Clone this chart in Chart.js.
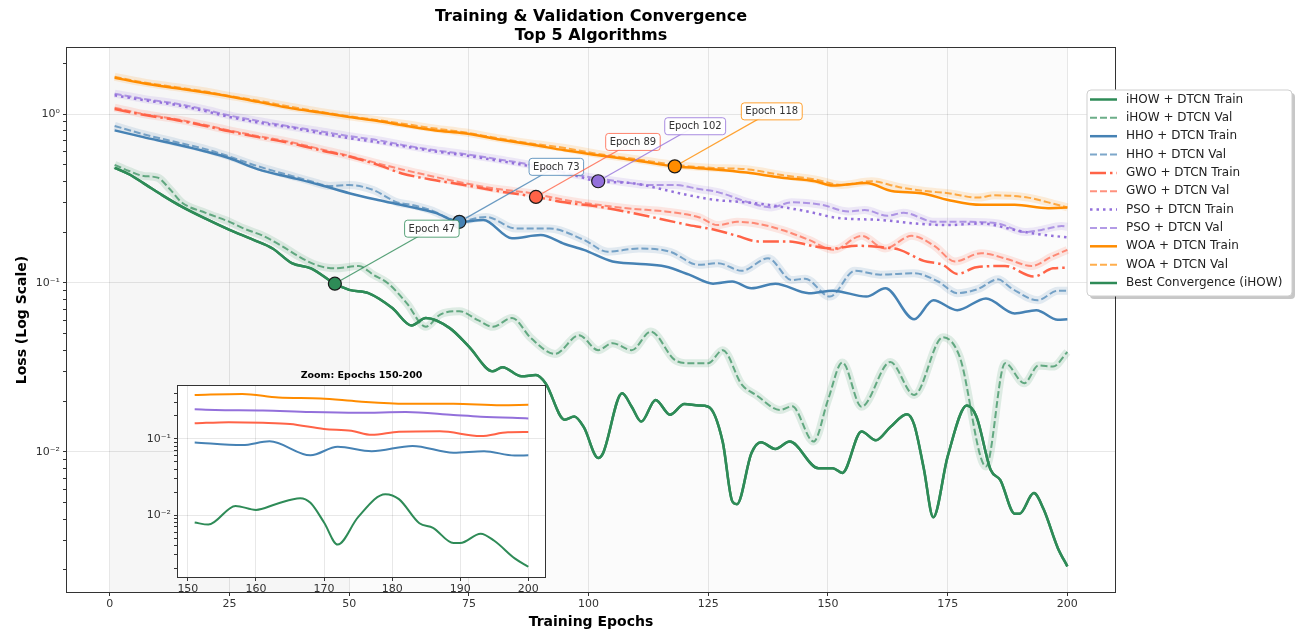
<!DOCTYPE html>
<html>
<head>
<meta charset="utf-8">
<script src="https://cdn.jsdelivr.net/npm/chart.js@4.4.0/dist/chart.umd.min.js"></script>
<style>
  body { margin: 0; background: #fff; }
  #wrap { position: relative; width: 1300px; height: 635px; }
  #main { position: absolute; left: 0; top: 0; }
  #zoom { position: absolute; left: 130px; top: 360px; }
</style>
</head>
<body>
<div id="wrap">
  <canvas id="main" width="1300" height="635"></canvas>
  <canvas id="zoom" width="430" height="245"></canvas>
</div>
<script>
// axis ticks
const xTicks = [0, 25, 50, 75, 100, 125, 150, 175, 200];
const zoomTicks = [150, 160, 170, 180, 190, 200];
const decadeTicks = [0.01, 0.1, 1];
const decadeLabels = ['10⁻²', '10⁻¹', '10⁰'];

// algorithms, colours and the epoch where each one is marked
const algorithms = ['iHOW', 'HHO', 'GWO', 'PSO', 'WOA'];
const algoColors = ['#2e8b57', '#4682b4', '#ff6347', '#9370db', '#ff8c00'];
const bestEpochs = [47, 73, 89, 102, 118];

// background phases (epochs)
const phaseEdges = [0, 50, 200];
const phaseFills = ['#f6f6f6', '#fbfbfb'];

// iHOW + DTCN
const ihowTrainEpochs = [1, 4, 7, 11, 15, 20, 25, 30, 34, 38, 42, 47, 50, 54, 59, 63, 66, 71, 75, 80, 82, 86, 89, 91, 95, 97, 99, 102, 103, 107, 109, 111, 114, 117, 120, 123, 125, 128, 130, 131, 134, 136, 139, 142, 148, 151, 153, 157, 160, 163, 166.5, 168, 170, 172, 175, 179, 181, 184, 186, 189, 190, 193, 195, 198, 200];
const ihowTrainLoss = [0.48, 0.44, 0.39, 0.33, 0.283, 0.24, 0.206, 0.18, 0.16, 0.131, 0.122, 0.099, 0.091, 0.087, 0.071, 0.056, 0.062, 0.054, 0.042, 0.030, 0.0317, 0.028, 0.0285, 0.0255, 0.0155, 0.0162, 0.014, 0.0092, 0.0098, 0.0222, 0.0185, 0.0151, 0.0203, 0.0166, 0.0192, 0.0188, 0.0185, 0.0115, 0.0051, 0.0049, 0.0098, 0.0114, 0.0104, 0.0115, 0.0080, 0.0080, 0.0075, 0.0132, 0.0117, 0.014, 0.0167, 0.0145, 0.008, 0.0041, 0.0094, 0.0188, 0.0162, 0.0078, 0.0068, 0.0043, 0.0043, 0.0057, 0.0046, 0.0027, 0.0021];
const ihowValEpochs = [1, 4, 7, 10, 12.5, 15, 20, 25, 28, 32, 36, 39, 43, 47, 52, 55, 58, 62, 66, 69, 73, 77, 80, 84, 88, 93, 98, 102, 105, 109, 113, 118, 121, 125, 128, 132, 135, 140, 142.5, 147, 150, 153, 157, 163, 168, 174, 177.5, 183, 187, 191, 194, 197, 200];
const ihowValLoss = [0.50, 0.46, 0.43, 0.42, 0.36, 0.30, 0.26, 0.23, 0.21, 0.19, 0.165, 0.146, 0.128, 0.122, 0.126, 0.112, 0.10, 0.076, 0.055, 0.065, 0.068, 0.060, 0.055, 0.062, 0.047, 0.038, 0.049, 0.040, 0.044, 0.040, 0.0515, 0.035, 0.0335, 0.0335, 0.040, 0.025, 0.0217, 0.0177, 0.0186, 0.0115, 0.0203, 0.0338, 0.0185, 0.034, 0.0217, 0.0477, 0.0366, 0.0082, 0.0335, 0.0255, 0.0325, 0.032, 0.039];

// HHO + DTCN
const hhoTrainEpochs = [1, 7, 14, 20, 25, 31, 38, 44, 50, 56, 62, 68, 73, 78, 84, 90, 95, 99, 105, 110, 116, 121, 126, 130, 134, 139, 146, 151, 158, 162, 168, 172, 177, 183, 189, 193.5, 198, 200];
const hhoTrainLoss = [0.80, 0.73, 0.66, 0.60, 0.547, 0.47, 0.42, 0.38, 0.34, 0.31, 0.285, 0.26, 0.23, 0.236, 0.184, 0.192, 0.17, 0.157, 0.134, 0.13, 0.125, 0.112, 0.099, 0.102, 0.093, 0.099, 0.087, 0.09, 0.083, 0.093, 0.061, 0.079, 0.069, 0.081, 0.066, 0.069, 0.0605, 0.061];
const hhoValEpochs = [1, 7, 14, 20, 25, 31, 38, 42, 46, 50, 55, 60, 63, 67, 73, 78.6, 84.8, 91.8, 99, 104, 110.5, 117, 123, 127, 132, 137.5, 142.4, 145.2, 150.4, 155.6, 161, 168, 173, 177, 181.3, 185.5, 188.3, 193.8, 198, 200];
const hhoValLoss = [0.85, 0.76, 0.68, 0.62, 0.56, 0.49, 0.43, 0.40, 0.375, 0.38, 0.355, 0.30, 0.29, 0.27, 0.233, 0.246, 0.21, 0.21, 0.18, 0.153, 0.16, 0.153, 0.128, 0.131, 0.118, 0.14, 0.104, 0.106, 0.083, 0.118, 0.112, 0.114, 0.102, 0.087, 0.092, 0.105, 0.093, 0.079, 0.09, 0.09];

// GWO + DTCN
const gwoTrainEpochs = [1, 7, 14, 20, 25, 31, 38, 44, 50, 56, 61, 67, 74, 81, 89, 95, 102, 109, 116, 121, 126.5, 131, 135.5, 142, 147, 151, 156, 161, 165, 170, 174, 177, 181, 187, 193, 197, 200];
const gwoTrainLoss = [1.07, 0.99, 0.92, 0.85, 0.79, 0.73, 0.67, 0.61, 0.56, 0.50, 0.445, 0.41, 0.38, 0.35, 0.323, 0.30, 0.283, 0.26, 0.236, 0.22, 0.206, 0.19, 0.176, 0.176, 0.165, 0.16, 0.166, 0.163, 0.157, 0.135, 0.128, 0.113, 0.124, 0.126, 0.109, 0.122, 0.123];
const gwoValEpochs = [1, 7, 14, 20, 25, 31, 38, 44, 50, 56, 61, 67, 74, 81, 88, 95, 102, 109, 116, 123, 127, 131, 135, 140.4, 146, 151.2, 157, 161.9, 167.5, 172.3, 176.5, 182, 187.6, 192.5, 196.7, 200];
const gwoValLoss = [1.09, 1.0, 0.93, 0.86, 0.80, 0.74, 0.68, 0.62, 0.565, 0.51, 0.47, 0.43, 0.39, 0.36, 0.34, 0.31, 0.29, 0.275, 0.265, 0.245, 0.22, 0.23, 0.225, 0.206, 0.18, 0.157, 0.19, 0.16, 0.19, 0.165, 0.134, 0.15, 0.138, 0.126, 0.143, 0.157];

// PSO + DTCN
const psoTrainEpochs = [1, 7, 14, 20, 25, 31, 38, 44, 50, 56, 62, 68, 74, 81, 88, 95, 102, 109, 116, 121, 126.5, 133, 140, 147, 151, 154, 161, 168, 175, 182, 189, 193, 200];
const psoTrainLoss = [1.29, 1.21, 1.13, 1.04, 0.96, 0.89, 0.83, 0.77, 0.72, 0.68, 0.64, 0.60, 0.57, 0.53, 0.49, 0.45, 0.40, 0.39, 0.355, 0.33, 0.31, 0.30, 0.283, 0.26, 0.245, 0.24, 0.236, 0.225, 0.22, 0.225, 0.206, 0.196, 0.186];
const psoValEpochs = [1, 7, 14, 20, 25, 31, 38, 44, 50, 56, 62, 68, 74, 81, 88, 95, 101, 106, 113, 118, 123, 127, 133.4, 138.2, 142.4, 148.7, 154.3, 157.7, 162.4, 165.8, 172.3, 178.5, 185.5, 191.1, 194.6, 198.8, 200];
const psoValLoss = [1.32, 1.23, 1.15, 1.06, 0.98, 0.91, 0.84, 0.79, 0.74, 0.70, 0.65, 0.61, 0.58, 0.54, 0.50, 0.45, 0.42, 0.40, 0.38, 0.38, 0.36, 0.345, 0.30, 0.28, 0.30, 0.29, 0.265, 0.27, 0.25, 0.26, 0.23, 0.23, 0.225, 0.20, 0.206, 0.217, 0.215];

// WOA + DTCN
const woaTrainEpochs = [1, 7, 14, 20, 25, 31, 38, 44, 50, 56, 62, 68, 74, 81, 88, 95, 102, 110, 118, 126.5, 133, 140.4, 147.3, 151, 158, 163.3, 169.5, 175.1, 182, 189, 196, 200];
const woaTrainLoss = [1.64, 1.52, 1.42, 1.34, 1.27, 1.18, 1.08, 1.02, 0.96, 0.91, 0.85, 0.80, 0.77, 0.71, 0.66, 0.61, 0.57, 0.53, 0.49, 0.47, 0.45, 0.42, 0.40, 0.377, 0.39, 0.35, 0.34, 0.31, 0.29, 0.29, 0.277, 0.28];
const woaValEpochs = [1, 7, 14, 20, 25, 31, 38, 44, 50, 56, 62, 68, 74, 81, 88, 95, 102, 110, 118, 126, 133.4, 140.4, 147.3, 152.9, 159.1, 164.7, 170.2, 175.1, 181.3, 184.8, 191.8, 196, 200];
const woaValLoss = [1.66, 1.54, 1.44, 1.36, 1.28, 1.20, 1.10, 1.03, 0.97, 0.92, 0.87, 0.82, 0.78, 0.72, 0.67, 0.63, 0.58, 0.54, 0.50, 0.48, 0.47, 0.435, 0.41, 0.38, 0.40, 0.37, 0.35, 0.34, 0.32, 0.33, 0.32, 0.30, 0.28];

const trainEpochs = [ihowTrainEpochs, hhoTrainEpochs, gwoTrainEpochs, psoTrainEpochs, woaTrainEpochs];
const trainLoss = [ihowTrainLoss, hhoTrainLoss, gwoTrainLoss, psoTrainLoss, woaTrainLoss];
const valEpochs = [ihowValEpochs, hhoValEpochs, gwoValEpochs, psoValEpochs, woaValEpochs];
const valLoss = [ihowValLoss, hhoValLoss, gwoValLoss, psoValLoss, woaValLoss];
const trainDash = [[], [], [16, 4, 2.5, 4], [2.5, 4], []];

Chart.defaults.font.family = '"DejaVu Sans", sans-serif';
Chart.defaults.color = '#333';
const gridColor = 'rgba(0, 0, 0, 0.09)';

function rgba(hex, a) {
  const n = parseInt(hex.slice(1), 16);
  return `rgba(${n >> 16}, ${(n >> 8) & 255}, ${n & 255}, ${a})`;
}
function pts(xs, ys) { return xs.map((x, i) => ({ x, y: ys[i] })); }

// 1..9 x 10^e ticks inside [lo, hi]
function logTicks(lo, hi) {
  const out = [];
  for (let e = -3; e <= 0; e++) {
    for (let m = 1; m <= 9; m++) {
      const v = +(m * Math.pow(10, e)).toPrecision(3);
      if (v >= lo && v <= hi) out.push(v);
    }
  }
  return out;
}

function yAxis(min, max, width, title) {
  return {
    type: 'logarithmic', min, max,
    afterBuildTicks: s => { s.ticks = logTicks(min, max).map(v => ({ value: v })); },
    afterFit: s => { s.width = width; },
    ticks: {
      autoSkip: false, padding: 3, font: { size: 11 }, color: '#333',
      callback: v => { const k = decadeTicks.indexOf(v); return k < 0 ? '' : decadeLabels[k]; }
    },
    grid: {
      color: c => (c.tick && decadeTicks.includes(c.tick.value)) ? gridColor : 'rgba(0,0,0,0)',
      tickColor: '#333', tickLength: 4
    },
    border: { display: false },
    title: title || { display: false }
  };
}

function xAxis(min, max, ticks, height, title) {
  return {
    type: 'linear', min, max,
    afterBuildTicks: s => { s.ticks = ticks.map(v => ({ value: v })); },
    afterFit: s => { s.height = height; },
    ticks: { autoSkip: false, maxRotation: 0, padding: 2, font: { size: 11 }, color: '#333' },
    grid: { color: gridColor, tickColor: '#333', tickLength: 4 },
    border: { display: false },
    title: title || { display: false }
  };
}

const framePlugin = {
  id: 'frame',
  afterDraw(chart) {
    const { ctx, chartArea: a } = chart;
    ctx.save();
    ctx.strokeStyle = '#333';
    ctx.lineWidth = 1;
    ctx.strokeRect(Math.round(a.left) - 0.5, Math.round(a.top) - 0.5,
      Math.round(a.right - a.left) + 1, Math.round(a.bottom - a.top) + 1);
    ctx.restore();
  }
};

const phasePlugin = {
  id: 'phases',
  beforeDraw(chart) {
    const { ctx, chartArea: a, scales: { x } } = chart;
    ctx.save();
    for (let i = 0; i < phaseFills.length; i++) {
      const x0 = x.getPixelForValue(phaseEdges[i]);
      const x1 = x.getPixelForValue(phaseEdges[i + 1]);
      ctx.fillStyle = phaseFills[i];
      ctx.fillRect(x0, a.top, x1 - x0, a.bottom - a.top);
    }
    ctx.restore();
  }
};

const bestLabelPlugin = {
  id: 'bestLabels',
  afterDatasetsDraw(chart) {
    const ctx = chart.ctx;
    chart.data.datasets.forEach((ds, i) => {
      if (!ds.isMarker) return;
      const p = chart.getDatasetMeta(i).data[0];
      const bx = p.x + 97, by = p.y - 55;
      const dx = bx - p.x, dy = by - p.y, len = Math.hypot(dx, dy);
      ctx.save();
      ctx.strokeStyle = rgba(ds.baseColor, 0.8);
      ctx.lineWidth = 1.2;
      ctx.beginPath();
      ctx.moveTo(p.x + dx / len * 7, p.y + dy / len * 7);
      ctx.lineTo(bx, by);
      ctx.stroke();
      ctx.font = '10px "DejaVu Sans"';
      const text = 'Epoch ' + ds.data[0].x;
      const w = ctx.measureText(text).width + 8, h = 17;
      ctx.beginPath();
      ctx.roundRect(bx - w / 2, by - h / 2, w, h, 3);
      ctx.fillStyle = 'rgba(255,255,255,0.92)';
      ctx.fill();
      ctx.strokeStyle = rgba(ds.baseColor, 0.8);
      ctx.lineWidth = 1;
      ctx.stroke();
      ctx.fillStyle = '#333';
      ctx.textAlign = 'center';
      ctx.textBaseline = 'middle';
      ctx.fillText(text, bx, by + 0.5);
      ctx.restore();
    });
  }
};

const legendPlugin = {
  id: 'boxLegend',
  afterDraw(chart) {
    const ctx = chart.ctx;
    const items = chart.data.datasets.filter(d => !d.isBand && !d.isMarker);
    const bx = 1087, by = 90, bw = 205, bh = 206;
    ctx.save();
    ctx.fillStyle = 'rgba(0,0,0,0.22)';
    ctx.beginPath(); ctx.roundRect(bx + 3, by + 3, bw, bh, 4); ctx.fill();
    ctx.fillStyle = '#fff';
    ctx.strokeStyle = '#cfcfcf';
    ctx.lineWidth = 1;
    ctx.beginPath(); ctx.roundRect(bx, by, bw, bh, 4); ctx.fill(); ctx.stroke();
    ctx.font = '12px "DejaVu Sans"';
    ctx.textBaseline = 'middle';
    items.forEach((d, k) => {
      const y = by + 9.5 + k * 18.35;
      ctx.strokeStyle = d.borderColor;
      ctx.lineWidth = d.borderWidth;
      ctx.setLineDash(d.borderDash || []);
      ctx.beginPath(); ctx.moveTo(bx + 3, y); ctx.lineTo(bx + 30, y); ctx.stroke();
      ctx.setLineDash([]);
      ctx.fillStyle = '#222';
      ctx.fillText(d.label, bx + 39, y);
    });
    ctx.restore();
  }
};

// main chart datasets
const mainSets = [];
algorithms.forEach((alg, i) => {
  const c = algoColors[i];
  const val = pts(valEpochs[i], valLoss[i]);
  mainSets.push({ label: '', isBand: true, data: val, borderColor: rgba(c, 0.14), borderWidth: 8, order: 30 });
  mainSets.push({ label: alg + ' + DTCN Train', data: pts(trainEpochs[i], trainLoss[i]),
    borderColor: c, borderWidth: 2.5, borderDash: trainDash[i], order: 20 });
  mainSets.push({ label: alg + ' + DTCN Val', data: val,
    borderColor: rgba(c, 0.7), borderWidth: 2, borderDash: [7, 3], order: 10 });
});
mainSets.push({ label: 'Best Convergence (iHOW)', data: pts(ihowTrainEpochs, ihowTrainLoss),
  borderColor: algoColors[0], borderWidth: 2.5, order: 5 });
algorithms.forEach((alg, i) => {
  const e = bestEpochs[i];
  const v = trainLoss[i][trainEpochs[i].indexOf(e)];
  mainSets.push({ label: '', isMarker: true, baseColor: algoColors[i], data: [{ x: e, y: v }],
    showLine: false, pointRadius: 6.5, pointBackgroundColor: algoColors[i],
    pointBorderColor: '#1a1a1a', pointBorderWidth: 1.2, order: 0 });
});

new Chart(document.getElementById('main'), {
  type: 'line',
  data: { datasets: mainSets },
  options: {
    responsive: false,
    animation: false,
    events: [],
    datasets: { line: { pointRadius: 0, cubicInterpolationMode: 'monotone', fill: false } },
    layout: { padding: { left: 0, right: 185, top: 0, bottom: 0 } },
    plugins: {
      legend: { display: false },
      tooltip: { enabled: false },
      title: {
        display: true, fullSize: false,
        text: ['Training & Validation Convergence', 'Top 5 Algorithms'],
        font: { size: 16, weight: 'bold' }, color: '#000',
        padding: { top: 7, bottom: 2.6 }
      }
    },
    scales: {
      x: xAxis(-8.95, 209.95, xTicks, 43,
        { display: true, text: 'Training Epochs', font: { size: 14, weight: 'bold' }, color: '#000', padding: { top: 0, bottom: 4 } }),
      y: yAxis(0.00148, 2.46, 67,
        { display: true, text: 'Loss (Log Scale)', font: { size: 14, weight: 'bold' }, color: '#000', padding: { top: 14, bottom: 0 } })
    }
  },
  plugins: [phasePlugin, bestLabelPlugin, framePlugin, legendPlugin]
});

// inset: training curves over the last 50 epochs
const zoomSets = algorithms.map((alg, i) => ({
  label: alg,
  data: pts(trainEpochs[i], trainLoss[i]).filter(p => p.x >= 151),
  borderColor: algoColors[i], borderWidth: 2
}));

const whiteAreaPlugin = {
  id: 'whiteArea',
  beforeDraw(chart) {
    const { ctx, chartArea: a } = chart;
    ctx.save();
    ctx.fillStyle = '#fff';
    ctx.fillRect(a.left, a.top, a.right - a.left, a.bottom - a.top);
    ctx.restore();
  }
};

new Chart(document.getElementById('zoom'), {
  type: 'line',
  data: { datasets: zoomSets },
  options: {
    responsive: false,
    animation: false,
    events: [],
    datasets: { line: { pointRadius: 0, cubicInterpolationMode: 'monotone', fill: false } },
    layout: { padding: { left: 0, right: 15, top: 0, bottom: 0 } },
    plugins: {
      legend: { display: false },
      tooltip: { enabled: false },
      title: {
        display: true, fullSize: false, text: 'Zoom: Epochs 150-200',
        font: { size: 9.5, weight: 'bold' }, color: '#000',
        padding: { top: 10, bottom: 4.6 }
      }
    },
    scales: {
      x: xAxis(148.55, 202.45, zoomTicks, 28),
      y: yAxis(0.00154, 0.495, 48)
    }
  },
  plugins: [whiteAreaPlugin, framePlugin]
});
</script>
</body>
</html>
